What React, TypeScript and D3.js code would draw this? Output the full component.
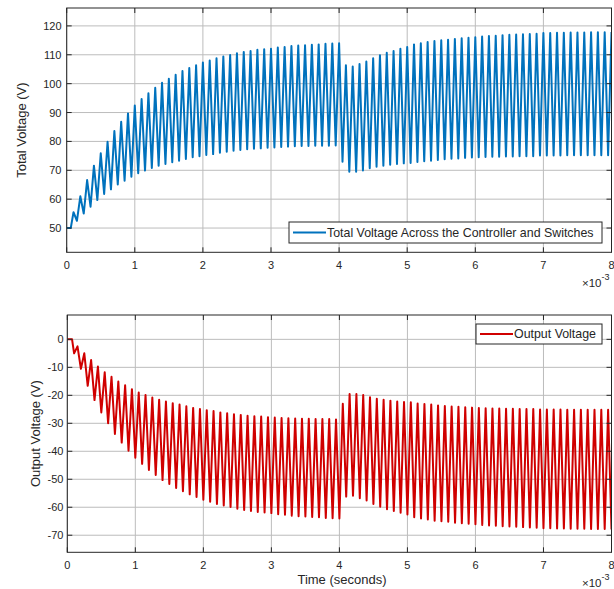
import React from "react";
import * as d3 from "d3";

// ---------- data ----------
const xTicks = [0, 1, 2, 3, 4, 5, 6, 7, 8];
const topYTicks = [50, 60, 70, 80, 90, 100, 110, 120];
const bottomYTicks = [0, -10, -20, -30, -40, -50, -60, -70];
const cyclePeriodMs = 0.1;

const topStart: [number, number][] = [[0, 50], [0.06, 50]];
// Total voltage: peaks at each cycle (0.1 ms, 0.2 ms, ...)
const topPeaks = [
  55.5, 61.0, 66.6, 71.6, 75.9, 79.9, 83.6, 86.8, 89.7, 92.4,
  94.7, 96.7, 98.6, 100.3, 101.7, 103.1, 104.4, 105.4, 106.4, 107.3,
  108.0, 108.8, 109.4, 109.9, 110.5, 111.0, 111.3, 111.7, 111.9, 112.1,
  112.5, 112.7, 113.0, 113.2, 113.3, 113.5, 113.6, 113.8, 113.9, 114.0,
  106.4, 105.9, 106.8, 107.7, 108.8, 109.8, 110.7, 111.3, 112.1, 112.7,
  113.6, 114.0, 114.4, 114.8, 115.0, 115.2, 115.5, 115.7, 115.9, 116.1,
  116.3, 116.5, 116.6, 116.8, 116.9, 117.0, 117.1, 117.2, 117.3, 117.5,
  117.5, 117.6, 117.6, 117.7, 117.7, 117.7, 117.8, 117.8, 117.8, 117.9,
];
// Total voltage: troughs half a cycle later (0.15 ms, 0.25 ms, ...)
const topTroughs = [
  52.5, 55.0, 57.4, 59.7, 61.8, 63.4, 65.1, 66.4, 67.8, 69.0,
  69.9, 70.8, 71.6, 72.2, 72.8, 73.3, 73.9, 74.5, 74.9, 75.3,
  75.6, 76.1, 76.4, 76.8, 77.0, 77.3, 77.5, 77.6, 77.8, 77.9,
  78.1, 78.2, 78.3, 78.4, 78.4, 78.5, 78.5, 78.5, 78.6, 73.0,
  69.5, 69.5, 69.9, 70.7, 71.2, 71.6, 71.9, 72.2, 72.4, 72.5,
  72.9, 73.1, 73.3, 73.6, 73.8, 74.0, 74.1, 74.3, 74.4, 74.5,
  74.6, 74.7, 74.7, 74.8, 74.8, 74.9, 74.9, 74.9, 75.1, 75.1,
  75.1, 75.1, 75.2, 75.2, 75.2, 75.2, 75.2, 75.2, 75.2,
];

const bottomStart: [number, number][] = [[0, 0], [0.07, 0]];
// Output voltage: troughs at each cycle
const bottomTroughs = [
  -5.0, -10.5, -16.6, -21.7, -26.1, -30.0, -33.8, -36.9, -39.8, -42.3,
  -44.5, -46.7, -48.5, -50.3, -51.7, -53.1, -54.3, -55.4, -56.3, -57.3,
  -58.0, -58.8, -59.4, -59.9, -60.5, -61.0, -61.3, -61.7, -61.9, -62.1,
  -62.5, -62.7, -63.0, -63.2, -63.3, -63.5, -63.6, -63.8, -63.9, -64.0,
  -56.2, -55.9, -56.8, -57.6, -58.8, -59.8, -60.7, -61.3, -62.0, -62.6,
  -63.6, -64.0, -64.4, -64.8, -65.0, -65.2, -65.5, -65.7, -65.9, -66.1,
  -66.3, -66.5, -66.6, -66.8, -66.9, -67.0, -67.1, -67.2, -67.3, -67.5,
  -67.5, -67.6, -67.6, -67.7, -67.7, -67.7, -67.8, -67.8, -67.8, -67.9,
];
// Output voltage: peaks half a cycle later
const bottomPeaks = [
  -2.5, -5.0, -7.4, -9.7, -11.8, -13.4, -15.1, -16.4, -17.8, -19.0,
  -19.9, -20.8, -21.6, -22.2, -22.8, -23.3, -23.9, -24.5, -24.9, -25.3,
  -25.6, -26.1, -26.4, -26.8, -27.0, -27.3, -27.5, -27.6, -27.8, -27.9,
  -28.1, -28.2, -28.3, -28.4, -28.4, -28.5, -28.5, -28.5, -28.6, -23.0,
  -19.5, -19.5, -19.9, -20.7, -21.2, -21.6, -21.9, -22.2, -22.4, -22.5,
  -22.9, -23.1, -23.3, -23.6, -23.8, -24.0, -24.1, -24.3, -24.4, -24.5,
  -24.6, -24.7, -24.7, -24.8, -24.8, -24.9, -24.9, -24.9, -25.1, -25.1,
  -25.1, -25.1, -25.2, -25.2, -25.2, -25.2, -25.2, -25.2, -25.2,
];

const topLegend = "Total Voltage Across the Controller and Switches";
const bottomLegend = "Output Voltage";
const topYLabel = "Total Voltage (V)";
const bottomYLabel = "Output Voltage (V)";
const xLabel = "Time (seconds)";

// ---------- helpers ----------
function buildSeries(start: [number, number][], atCycle: number[], atHalf: number[]) {
  const pts: [number, number][] = [...start];
  for (let k = 0; k < atCycle.length; k++) {
    pts.push([(k + 1) * cyclePeriodMs, atCycle[k]]);
    if (k < atHalf.length) pts.push([(k + 1.5) * cyclePeriodMs, atHalf[k]]);
  }
  return pts;
}

const FONT = "'Liberation Sans', Arial, Helvetica, sans-serif";
const AX = "#262626";
const GRID = "#bcbcbc";

type PanelProps = {
  left: number; right: number; top: number; bottom: number;
  yDomain: [number, number];
  yTicks: number[];
  data: [number, number][];
  color: string;
  yLabel: string; yLabelX: number;
  tickLabelRight: number;
  legendText: string;
  legend: { x0: number; x1: number; y0: number; y1: number };
  xLabelText?: string;
};

function Panel(p: PanelProps) {
  const x = d3.scaleLinear().domain([0, 8]).range([p.left, p.right]);
  const y = d3.scaleLinear().domain(p.yDomain).range([p.bottom, p.top]);
  const line = d3.line<[number, number]>().x((d) => x(d[0])).y((d) => y(d[1]));
  const tl = 5;
  const cy = (p.top + p.bottom) / 2;
  const lg = p.legend;
  const lgMid = (lg.y0 + lg.y1) / 2;
  return (
    <g fontFamily={FONT}>
      <rect x={p.left} y={p.top} width={p.right - p.left} height={p.bottom - p.top} fill="#fff" />
      {/* grid */}
      {xTicks.map((t) => (
        <line key={"gx" + t} x1={x(t)} x2={x(t)} y1={p.top} y2={p.bottom} stroke={GRID} strokeWidth={1} />
      ))}
      {p.yTicks.map((t) => (
        <line key={"gy" + t} x1={p.left} x2={p.right} y1={y(t)} y2={y(t)} stroke={GRID} strokeWidth={1} />
      ))}
      {/* data */}
      <clipPath id={"clip" + p.top}>
        <rect x={p.left} y={p.top} width={p.right - p.left} height={p.bottom - p.top} />
      </clipPath>
      <path d={line(p.data) || ""} fill="none" stroke={p.color} strokeWidth={2} strokeLinejoin="round" clipPath={`url(#clip${p.top})`} />
      {/* box */}
      <rect x={p.left} y={p.top} width={p.right - p.left} height={p.bottom - p.top} fill="none" stroke={AX} strokeWidth={1} />
      {/* ticks */}
      {xTicks.map((t) => (
        <g key={"tx" + t}>
          <line x1={x(t)} x2={x(t)} y1={p.bottom} y2={p.bottom - tl} stroke={AX} />
          <line x1={x(t)} x2={x(t)} y1={p.top} y2={p.top + tl} stroke={AX} />
          <text x={x(t)} y={p.bottom + 17} fontSize={11} fill={AX} textAnchor="middle">{t}</text>
        </g>
      ))}
      {p.yTicks.map((t) => (
        <g key={"ty" + t}>
          <line x1={p.left} x2={p.left + tl} y1={y(t)} y2={y(t)} stroke={AX} />
          <line x1={p.right} x2={p.right - tl} y1={y(t)} y2={y(t)} stroke={AX} />
          <text x={p.tickLabelRight} y={y(t) + 4} fontSize={11} fill={AX} textAnchor="end">{t}</text>
        </g>
      ))}
      {/* exponent */}
      <text x={582} y={p.bottom + 35} fontSize={11.5} fill={AX}>
        ×10<tspan fontSize={9} dy={-7}>-3</tspan>
      </text>
      {/* y label */}
      <text transform={`translate(${p.yLabelX},${cy}) rotate(-90)`} fontSize={13} fill={AX} textAnchor="middle" dy="0.35em">
        {p.yLabel}
      </text>
      {p.xLabelText && (
        <text x={342} y={p.bottom + 32} fontSize={13} fill={AX} textAnchor="middle">{p.xLabelText}</text>
      )}
      {/* legend */}
      <rect x={lg.x0} y={lg.y0} width={lg.x1 - lg.x0} height={lg.y1 - lg.y0} fill="#fff" stroke={AX} strokeWidth={1} />
      <line x1={lg.x0 + 4} x2={lg.x0 + 37} y1={lgMid} y2={lgMid} stroke={p.color} strokeWidth={2} />
      <text x={lg.x0 + 38} y={lgMid + 4.4} fontSize={12.4} fill={AX}>{p.legendText}</text>
    </g>
  );
}

export default function App() {
  const topData = buildSeries(topStart, topPeaks, topTroughs);
  const bottomData = buildSeries(bottomStart, bottomTroughs, bottomPeaks);
  return (
    <div style={{ position: "absolute", left: 0, top: 0, width: 614, height: 589, background: "#fff" }}>
      <svg width={614} height={589} viewBox="0 0 614 589" style={{ display: "block" }}>
        <rect width={614} height={589} fill="#fff" />
        <Panel
          left={66.7} right={611.5} top={8} bottom={252.3}
          yDomain={[41.6, 126.2]} yTicks={topYTicks} data={topData} color="#0072BD"
          yLabel={topYLabel} yLabelX={21} tickLabelRight={61.5}
          legendText={topLegend} legend={{ x0: 289, x1: 602, y0: 222, y1: 243 }}
        />
        <Panel
          left={67.3} right={611.5} top={315} bottom={552.3}
          yDomain={[-76.1, 8.7]} yTicks={bottomYTicks} data={bottomData} color="#D00000"
          yLabel={bottomYLabel} yLabelX={35} tickLabelRight={63.5}
          legendText={bottomLegend} legend={{ x0: 476, x1: 602, y0: 324, y1: 344 }}
          xLabelText={xLabel}
        />
      </svg>
    </div>
  );
}
